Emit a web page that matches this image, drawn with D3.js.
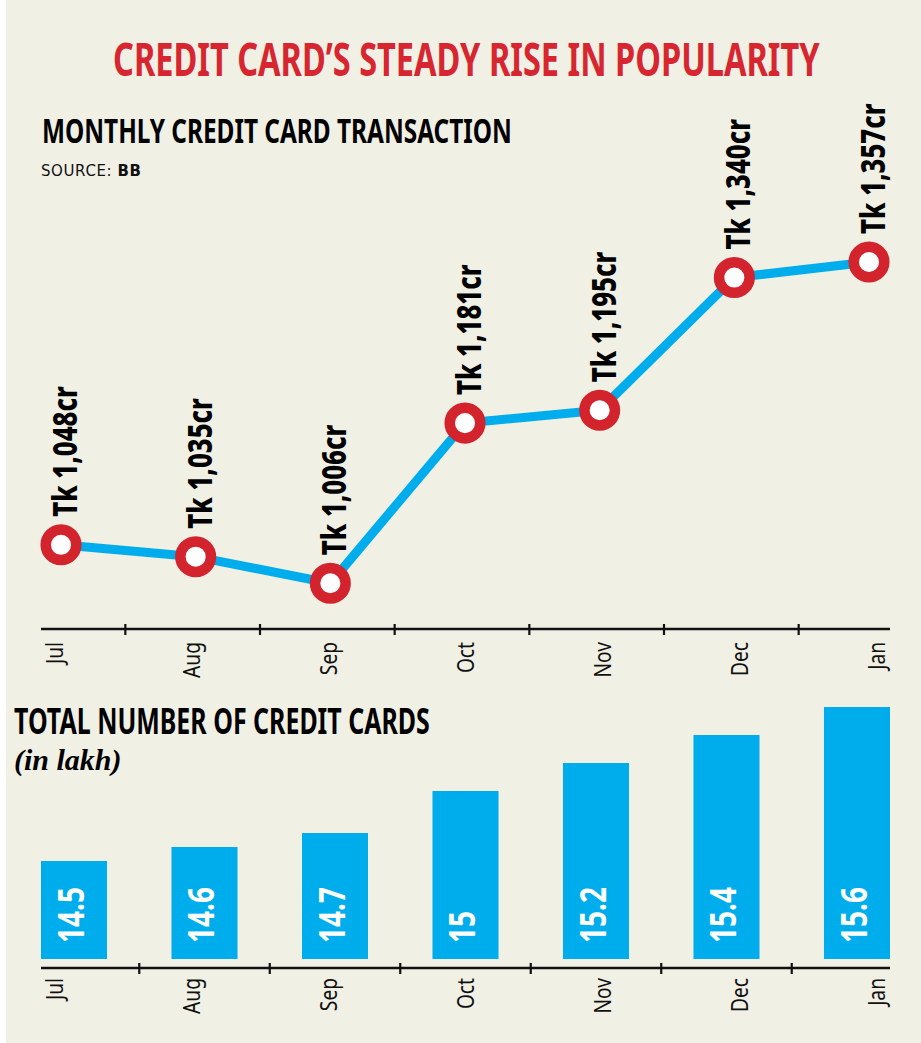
<!DOCTYPE html>
<html>
<head>
<meta charset="utf-8">
<script src="https://cdn.jsdelivr.net/npm/d3@7"></script>
<style>
  html, body { margin: 0; padding: 0; background: #ffffff; }
  svg { display: block; }
</style>
</head>
<body>
<div id="chart"></div>
<script>
// data
const months = ["Jul", "Aug", "Sep", "Oct", "Nov", "Dec", "Jan"];
const transactions = [1048, 1035, 1006, 1181, 1195, 1340, 1357]; // Tk crore
const cardCounts = [14.5, 14.6, 14.7, 15, 15.2, 15.4, 15.6];      // lakh

const W = 921, H = 1043;
const BG = "#f1f0e5";
const BLUE = "#00adec";
const RED = "#d3232c";
const SANS = "'Noto Sans', 'Open Sans', sans-serif";
const CONDENSE = 0.8;

const svg = d3.select("#chart")
  .append("svg")
  .attr("width", W)
  .attr("height", H);

svg.append("rect")
  .attr("x", 6).attr("y", 0)
  .attr("width", W - 6).attr("height", H)
  .attr("fill", BG);

// squeeze a heading horizontally so it spans the given width
function heading(x, y, width, size, color, txt) {
  const t = svg.append("text")
    .attr("font-family", SANS).attr("font-weight", 700).attr("font-size", size)
    .attr("fill", color)
    .text(txt);
  const natural = t.node().getComputedTextLength();
  t.attr("transform", `translate(${x},${y}) scale(${width / natural},1)`);
  return t;
}

heading(113, 76, 707, 46, "#d7262f", "CREDIT CARD\u2019S STEADY RISE IN POPULARITY");
heading(42, 143, 470, 34, "#000", "MONTHLY CREDIT CARD TRANSACTION");
heading(14, 734, 416, 35, "#000", "TOTAL NUMBER OF CREDIT CARDS");

const src = svg.append("text")
  .attr("x", 41).attr("y", 176)
  .attr("font-family", "'DejaVu Sans', sans-serif").attr("font-size", 15)
  .attr("letter-spacing", 0.6)
  .attr("fill", "#111");
src.append("tspan").text("SOURCE: ");
src.append("tspan").attr("font-weight", 700).text("BB");

svg.append("text")
  .attr("x", 14).attr("y", 770)
  .attr("font-family", "'Liberation Serif', 'DejaVu Serif', serif")
  .attr("font-style", "italic").attr("font-weight", 700).attr("font-size", 30)
  .attr("fill", "#000")
  .text("(in lakh)");

// scales
const xLine = d3.scalePoint().domain(months).range([61, 869]);
const yLine = d3.scaleLinear().domain([956, 1357]).range([629, 262]);
const xLabel = d3.scalePoint().domain(months).range([54, 876]);
const xBar = d3.scaleBand().domain(months).range([41, 890]).paddingInner(0.494).paddingOuter(0);
const yBar = d3.scaleLinear().domain([13.8, 15.6]).range([959, 707]);

// axis with ticks between categories + rotated month labels
function drawAxis(y, tickXs, gap) {
  const g = svg.append("g").attr("transform", `translate(0,${y})`);
  g.append("line")
    .attr("x1", 41).attr("x2", 890)
    .attr("stroke", "#111").attr("stroke-width", 2.5);
  g.selectAll(".tick-mark")
    .data(tickXs)
    .enter()
    .append("line")
    .attr("x1", d => d).attr("x2", d => d)
    .attr("y1", -5).attr("y2", 6)
    .attr("stroke", "#111").attr("stroke-width", 2.2);

  const labels = svg.append("g")
    .attr("transform", `translate(0,${y})`)
    .call(d3.axisBottom(xLabel).tickSize(0));
  labels.select(".domain").remove();
  labels.selectAll("text")
    .attr("transform", `rotate(-90) scale(${CONDENSE},1)`)
    .attr("x", -gap / CONDENSE)
    .attr("y", 0)
    .attr("dy", "0.36em")
    .attr("text-anchor", "end")
    .attr("font-family", SANS)
    .attr("font-size", 24)
    .attr("fill", "#111");
}

// line chart
const midLine = d3.pairs(months).map(([a, b]) => (xLine(a) + xLine(b)) / 2 - 3);
drawAxis(629, midLine, 13);

const points = months.map((m, i) => ({ m, v: transactions[i] }));

svg.append("path")
  .datum(points)
  .attr("fill", "none")
  .attr("stroke", BLUE)
  .attr("stroke-width", 9)
  .attr("stroke-linejoin", "round")
  .attr("d", d3.line().x(d => xLine(d.m)).y(d => yLine(d.v)));

svg.selectAll(".marker")
  .data(points)
  .enter()
  .append("circle")
  .attr("class", "marker")
  .attr("cx", d => xLine(d.m))
  .attr("cy", d => yLine(d.v))
  .attr("r", 15.3)
  .attr("fill", "#fff")
  .attr("stroke", RED)
  .attr("stroke-width", 10.5);

const fmt = d3.format(",");
svg.selectAll(".pt-label")
  .data(points)
  .enter()
  .append("text")
  .attr("class", "pt-label")
  .attr("transform", d => `translate(${xLine(d.m) + 4},${yLine(d.v) - 28}) rotate(-90) scale(0.78,1)`)
  .attr("dy", "0.36em")
  .attr("font-family", SANS)
  .attr("font-weight", 800)
  .attr("font-size", 33)
  .attr("fill", "#000")
  .text(d => `Tk ${fmt(d.v)}cr`);

// bar chart
const midBar = d3.pairs(months).map(([a, b]) =>
  (xBar(a) + xBar(b) + xBar.bandwidth()) / 2);
drawAxis(968, midBar, 10);

const bars = months.map((m, i) => ({ m, v: cardCounts[i] }));

svg.selectAll(".bar")
  .data(bars)
  .enter()
  .append("rect")
  .attr("class", "bar")
  .attr("x", d => xBar(d.m))
  .attr("width", xBar.bandwidth())
  .attr("y", d => yBar(d.v))
  .attr("height", d => yBar.range()[0] - yBar(d.v))
  .attr("fill", BLUE);

svg.selectAll(".bar-label")
  .data(bars)
  .enter()
  .append("text")
  .attr("class", "bar-label")
  .attr("transform", d => `translate(${xBar(d.m) + xBar.bandwidth() / 2 - 3},943) rotate(-90) scale(${CONDENSE},1)`)
  .attr("dy", "0.36em")
  .attr("font-family", SANS)
  .attr("font-weight", 700)
  .attr("font-size", 35)
  .attr("fill", "#fff")
  .text(d => d.v);
</script>
</body>
</html>
